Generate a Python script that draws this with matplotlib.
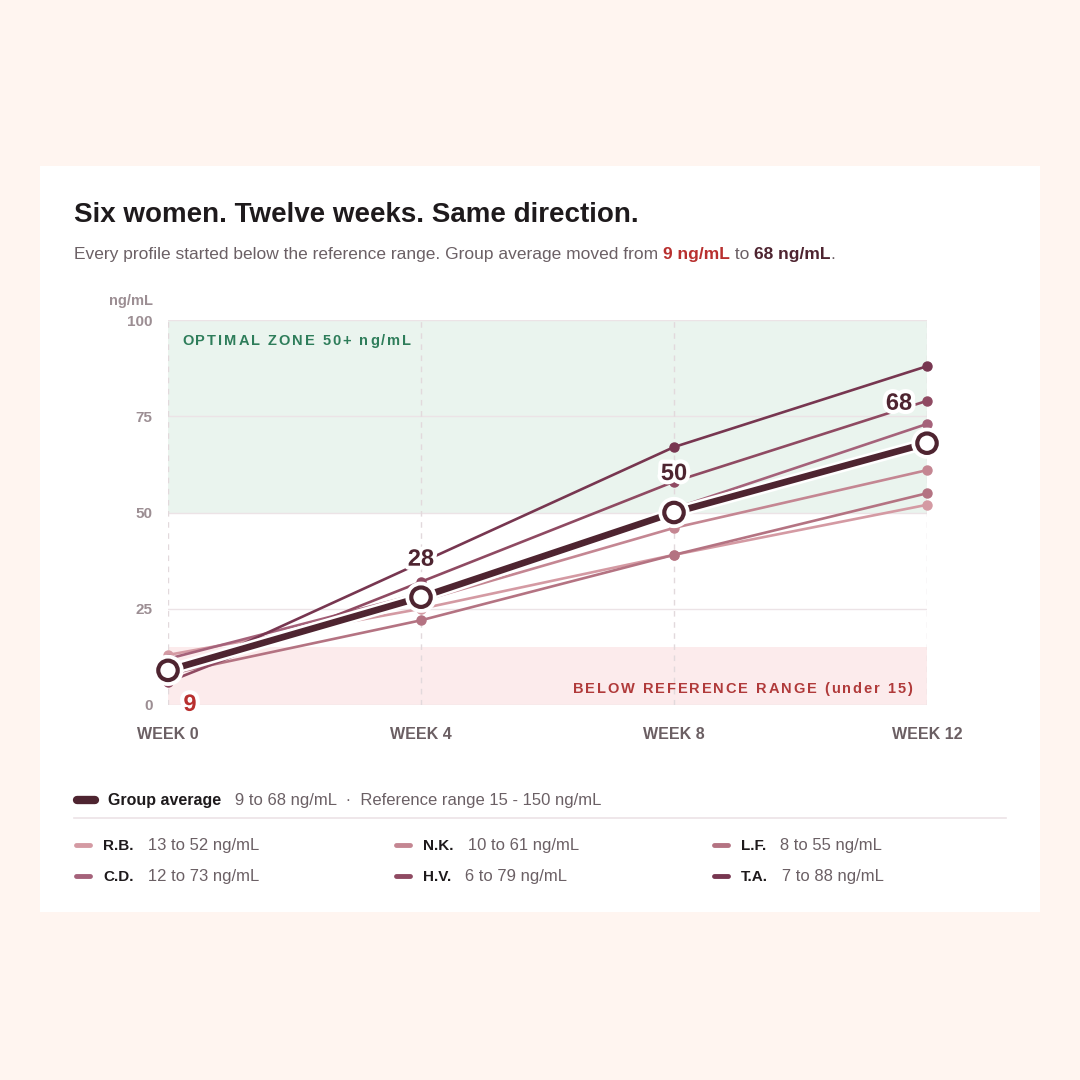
import matplotlib
matplotlib.use("Agg")
import matplotlib.pyplot as plt
import matplotlib.patheffects as pe
from matplotlib.patches import Rectangle
from matplotlib.lines import Line2D
from matplotlib.font_manager import FontProperties, findfont
from matplotlib.ft2font import FT2Font

plt.rcParams['font.family'] = ['Liberation Sans', 'DejaVu Sans']

# data
weeks = [0, 4, 8, 12]
week_labels = ["WEEK 0", "WEEK 4", "WEEK 8", "WEEK 12"]
names = ["R.B.", "N.K.", "L.F.", "C.D.", "H.V.", "T.A."]
rb = [13, 25, 39, 52]
nk = [10, 27, 46, 61]
lf = [8, 22, 39, 55]
cd = [12, 29, 51, 73]
hv = [6, 32, 58, 79]
ta = [7, 37, 67, 88]
avg = [9, 28, 50, 68]
series = [rb, nk, lf, cd, hv, ta]
colors = ["#d49aa3", "#c48692", "#b47382", "#a5627a", "#8f4a62", "#773650"]
avg_color = "#4e2430"
ref_low, ref_high = 15, 150
optimal = 50

W = 1080.0
def fx(px):
    return px / W
def fy(py):
    return 1 - py / W

fig = plt.figure(figsize=(10.8, 10.8), dpi=100, facecolor="#fff5f0")
card = Rectangle((fx(40), fy(912)), 1000 / W, 746 / W, transform=fig.transFigure,
                 facecolor="white", edgecolor="none", zorder=-10)
fig.add_artist(card)

ax = fig.add_axes([fx(168), fy(705), (927 - 168) / W, (705 - 320) / W])
ax.set_facecolor("none")
ax.set_xlim(0, 12)
ax.set_ylim(0, 100)
for s in ax.spines.values():
    s.set_visible(False)

# zones
ax.axhspan(optimal, 100, color="#eaf4ee", zorder=0, lw=0)
ax.axhspan(0, ref_low, color="#fcebec", zorder=0, lw=0)

# grid
for v in [0, 25, 50, 75, 100]:
    ax.axhline(v, color="#ece3e6", lw=1, zorder=1)
for w in weeks:
    ax.axvline(w, color="#e2d9dc", lw=1, ls=(0, (4, 4)), zorder=1)

ax.set_yticks([0, 25, 50, 75, 100])
ax.set_xticks(weeks)
ax.set_xticklabels(week_labels)
ax.tick_params(axis="y", length=0, pad=11, labelsize=11, labelcolor="#9c8e93")
ax.tick_params(axis="x", length=0, pad=16, labelsize=11.5, labelcolor="#6b5f63")
for t in ax.get_yticklabels() + ax.get_xticklabels():
    t.set_fontweight("bold")

fig.text(fx(153), fy(301), "ng/mL", ha="right", va="center", fontsize=10.5,
         color="#9c8e93", fontweight="bold")


# letter spaced labels, one glyph at a time
def spaced_text(x, y, s, size, color, spacing, ha="left"):
    prop = FontProperties(family=plt.rcParams['font.family'], weight="bold", size=size)
    ft = FT2Font(findfont(prop))
    ft.set_size(size, 100)
    adv = []
    for ch in s:
        g = ft.load_char(ord(ch))
        adv.append(g.linearHoriAdvance / 65536.0)
    total = sum(adv) + spacing * (len(s) - 1)
    cur = x - total if ha == "right" else x
    for ch, a in zip(s, adv):
        if ch != " ":
            fig.text(fx(cur), fy(y), ch, ha="left", va="center", fontsize=size,
                     color=color, fontweight="bold")
        cur += a + spacing


spaced_text(182, 341, "OPTIMAL ZONE %d+ ng/mL" % optimal, 10.5, "#2e7d5a", 2.0)
spaced_text(912, 689, "BELOW REFERENCE RANGE (under %d)" % ref_low, 10.5, "#b03a3a", 1.9,
            ha="right")

# individual lines
for vals, c in zip(series, colors):
    ax.plot(weeks, vals, color=c, lw=1.9, marker="o", ms=6.5, mec=c, mfc=c,
            zorder=3, clip_on=False)

# average
ax.plot(weeks, avg, color=avg_color, lw=4.8, marker="o", ms=14, mfc="white",
        mec=avg_color, mew=3, zorder=5, clip_on=False,
        path_effects=[pe.Stroke(linewidth=8.5, foreground="white"), pe.Normal()])

halo = [pe.withStroke(linewidth=6, foreground="white")]
offsets = [(22, -34), (0, 38), (0, 39), (-28, 40)]
for i, (w, v) in enumerate(zip(weeks, avg)):
    col = "#b8302f" if i == 0 else avg_color
    ax.annotate(str(v), (w, v), xytext=offsets[i], textcoords="offset pixels",
                ha="center", va="center", fontsize=17, fontweight="bold",
                color=col, path_effects=halo, zorder=6, annotation_clip=False)

# title + subtitle
fig.text(fx(74), fy(215), "Six women. Twelve weeks. Same direction.", ha="left",
         va="center", fontsize=20, fontweight="bold", color="#1e1a1c")

renderer = fig.canvas.get_renderer()

def chain(parts, x, y):
    cur = x
    for txt, col, wt, size in parts:
        t = fig.text(cur / W, fy(y), txt, ha="left", va="baseline",
                     fontsize=size, color=col, fontweight=wt)
        bb = t.get_window_extent(renderer)
        cur = bb.x1
    return cur

gray = "#6b6065"
chain([("Every profile started below the reference range. Group average moved from ", gray, "normal", 12.5),
       ("%d ng/mL" % avg[0], "#b8302f", "bold", 12.5),
       (" to ", gray, "normal", 12.5),
       ("%d ng/mL" % avg[-1], avg_color, "bold", 12.5),
       (".", gray, "normal", 12.5)], 74, 259)

# legend
fig.add_artist(Line2D([fx(77), fx(95)], [fy(800), fy(800)], color=avg_color, lw=6,
                      solid_capstyle="round"))
chain([("Group average", "#1e1a1c", "bold", 11.5),
       ("   %d to %d ng/mL  \u00b7  Reference range %d - %d ng/mL" % (avg[0], avg[-1], ref_low, ref_high),
        gray, "normal", 12)], 108, 805)
fig.add_artist(Line2D([fx(74), fx(1006)], [fy(818), fy(818)], color="#ece3e6", lw=1.2))

cols_x = [74, 394, 712]
rows_y = [845, 876]
for i, (nm, vals, c) in enumerate(zip(names, series, colors)):
    x0 = cols_x[i % 3]
    y0 = rows_y[i // 3]
    fig.add_artist(Line2D([fx(x0 + 2), fx(x0 + 16)], [fy(y0), fy(y0)], color=c, lw=3.5,
                          solid_capstyle="round"))
    chain([(nm, "#1e1a1c", "bold", 11),
           ("   %d to %d ng/mL" % (vals[0], vals[-1]), gray, "normal", 12)], x0 + 29, y0 + 5)

fig.savefig("out.png", dpi=100, facecolor=fig.get_facecolor())
